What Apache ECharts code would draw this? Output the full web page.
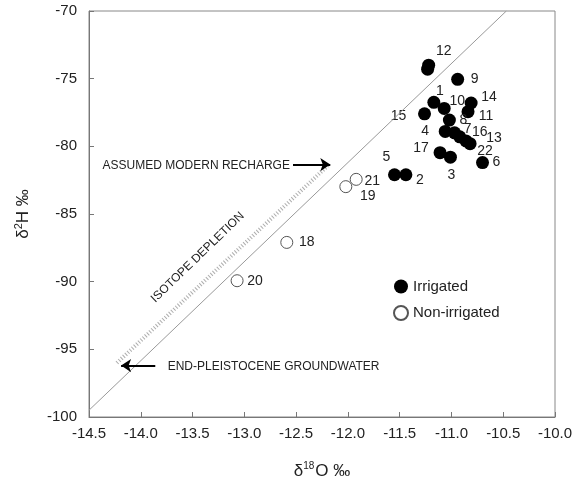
<!DOCTYPE html>
<html>
<head>
<meta charset="utf-8">
<script src="https://cdn.jsdelivr.net/npm/echarts@6/dist/echarts.min.js"></script>
<style>
  html, body { margin: 0; padding: 0; background: #fff; }
  #chart { width: 576px; height: 490px; }
</style>
</head>
<body>
<div id="chart"></div>
<script>
// irrigated samples (filled)
var irrId = ['1', '2', '3', '4', '5', '6', '7', '8', '9', '10', '11', '12', '', '13', '14', '15', '16', '17', '22'];
var irrO  = [-11.17, -11.44, -11.01, -11.06, -11.55, -10.70, -10.97, -11.02, -10.94, -11.07, -10.84, -11.22, -11.23, -10.86, -10.81, -11.26, -10.92, -11.11, -10.82];
var irrH  = [-76.75, -82.1, -80.8, -78.9, -82.1, -81.2, -79.0, -78.06, -75.05, -77.2, -77.44, -74.0, -74.3, -79.6, -76.8, -77.6, -79.3, -80.47, -79.8];

// non-irrigated samples (open)
var nonId = ['18', '19', '20', '21'];
var nonO  = [-12.59, -12.02, -13.07, -11.92];
var nonH  = [-87.1, -82.98, -89.93, -82.44];

// meteoric water line end points and isotope depletion band
var mwlO = [-14.5, -10.47];
var mwlH = [-99.5, -70];
var bandO = [-14.23, -12.19];
var bandH = [-96.0, -81.4];

// label placement for the sample numbers (pixels from the marker centre)
var labelShift = {
    '1': [6, -11], '2': [14, 5], '3': [1, 18], '4': [-20, 0], '5': [-8, -18], '6': [14, 0],
    '7': [13, -4], '8': [14, 0], '9': [17, 0], '10': [13, -7], '11': [18, 4], '12': [15, -14],
    '13': [28, -3], '14': [18, -6], '15': [-26, 2], '16': [20, -5], '17': [-19, -5], '22': [15, 8],
    '18': [20, 0], '19': [22, 9], '20': [18, 0], '21': [16, 2]
};

var FONT = 'Liberation Sans, Arial, sans-serif';

function toPoints(ids, xs, ys)
{
    var out = [];
    for (var i = 0; i < xs.length; i++)
    {
        var sh = labelShift[ids[i]] || [0, 0];
        out.push({
            value: [xs[i], ys[i]],
            label: { show: ids[i] !== '', formatter: ids[i], offset: sh }
        });
    }
    return out;
}

function pairs(xs, ys)
{
    var out = [];
    for (var i = 0; i < xs.length; i++) out.push([xs[i], ys[i]]);
    return out;
}

var pointLabel = {
    position: 'inside',
    color: '#222',
    fontSize: 14,
    fontFamily: FONT
};

var chart = echarts.init(document.getElementById('chart'));
chart.setOption({
    animation: false,
    backgroundColor: '#fff',
    textStyle: { fontFamily: FONT },
    grid: { left: 89, right: 21, top: 11, bottom: 73, show: true, borderColor: '#888', borderWidth: 1 },
    legend: {
        orient: 'vertical',
        left: 388,
        top: 274,
        itemGap: 11,
        itemWidth: 14,
        itemHeight: 14,
        textStyle: { fontSize: 15, color: '#222', fontFamily: FONT },
        data: [
            { name: 'Irrigated', icon: 'circle' },
            { name: 'Non-irrigated', icon: 'circle' }
        ]
    },
    xAxis: {
        type: 'value',
        min: -14.5,
        max: -10,
        interval: 0.5,
        axisLine: { show: true, lineStyle: { color: '#777' } },
        axisTick: { show: true, inside: true, length: 5, lineStyle: { color: '#777' } },
        splitLine: { show: false },
        axisLabel: { color: '#222', fontSize: 15, margin: 9, formatter: function (v) { return v.toFixed(1); } },
        name: '{a|δ}{s|18}{a|O ‰}',
        nameLocation: 'middle',
        nameGap: 44,
        nameTextStyle: {
            rich: {
                a: { fontSize: 17, color: '#222', fontFamily: FONT },
                s: { fontSize: 10, color: '#222', fontFamily: FONT, padding: [0, 1, 10, 0] }
            }
        }
    },
    yAxis: {
        type: 'value',
        min: -100,
        max: -70,
        interval: 5,
        axisLine: { show: true, lineStyle: { color: '#777' } },
        axisTick: { show: true, inside: true, length: 5, lineStyle: { color: '#777' } },
        splitLine: { show: false },
        axisLabel: { color: '#222', fontSize: 15, margin: 12 },
        name: '{a|δ}{s|2}{a|H ‰}',
        nameLocation: 'middle',
        nameRotate: 90,
        nameGap: 56,
        nameTextStyle: {
            rich: {
                a: { fontSize: 17, color: '#222', fontFamily: FONT },
                s: { fontSize: 11, color: '#222', fontFamily: FONT, padding: [0, 0, 9, 0] }
            }
        }
    },
    series: [
        {
            name: 'mwl',
            type: 'line',
            data: pairs(mwlO, mwlH),
            symbol: 'none',
            silent: true,
            lineStyle: { color: '#999', width: 1 },
            markLine: {
                silent: true,
                symbol: ['none', 'arrow'],
                symbolSize: 10,
                lineStyle: { color: '#000', width: 2, type: 'solid' },
                label: { show: false },
                emphasis: { disabled: true },
                data: [
                    [{ coord: [-12.53, -81.35] }, { coord: [-12.17, -81.35] }],
                    [{ coord: [-13.86, -96.2] }, { coord: [-14.19, -96.2] }]
                ]
            },
            markPoint: {
                silent: true,
                symbolSize: 0,
                label: { color: '#222', fontSize: 12, fontFamily: FONT },
                data: [
                    { coord: [-12.56, -81.4], value: 0, label: { position: 'left', distance: 0, formatter: 'ASSUMED MODERN RECHARGE' } },
                    { coord: [-13.74, -96.3], value: 0, label: { position: 'right', distance: 0, formatter: 'END-PLEISTOCENE GROUNDWATER' } },
                    { coord: [-13.45, -88.2], value: 0, label: { position: 'inside', rotate: 44, formatter: 'ISOTOPE DEPLETION' } }
                ]
            }
        },
        {
            name: 'band',
            type: 'line',
            data: pairs(bandO, bandH),
            symbol: 'none',
            silent: true,
            lineStyle: { color: '#999', width: 4, type: [1, 2], opacity: 0.8 }
        },
        {
            name: 'Irrigated',
            type: 'scatter',
            symbol: 'circle',
            symbolSize: 13,
            itemStyle: { color: '#000', borderColor: '#000', borderWidth: 0, opacity: 1 },
            label: pointLabel,
            data: toPoints(irrId, irrO, irrH)
        },
        {
            name: 'Non-irrigated',
            type: 'scatter',
            symbol: 'circle',
            symbolSize: 12,
            itemStyle: { color: '#fff', borderColor: '#555', borderWidth: 1, opacity: 1 },
            label: pointLabel,
            data: toPoints(nonId, nonO, nonH)
        }
    ]
});
</script>
</body>
</html>
